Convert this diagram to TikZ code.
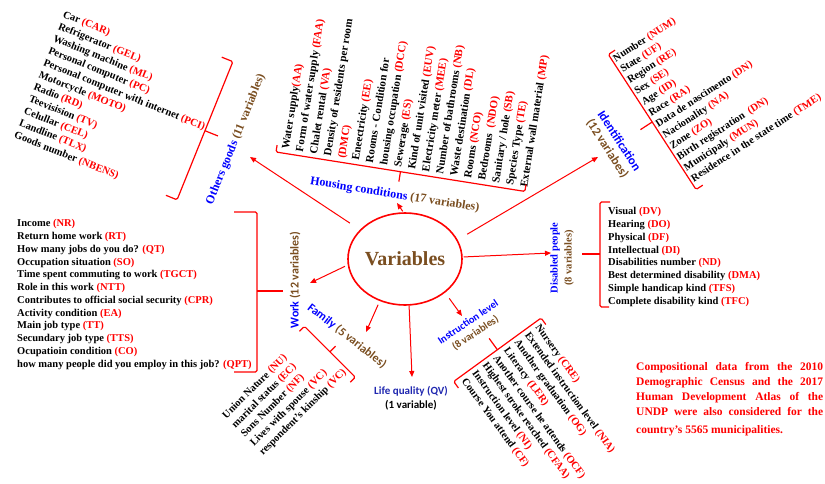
\documentclass[tikz,border=0pt]{standalone}
\usepackage{fontspec}
\setmainfont{Liberation Serif}
\newfontfamily\carl{Carlito}
\usetikzlibrary{arrows.meta,shapes.geometric}
\definecolor{cred}{RGB}{255,0,0}
\definecolor{cblue}{RGB}{0,0,255}
\definecolor{cbrown}{RGB}{122,78,32}
\definecolor{cdblue}{RGB}{32,40,176}
\newcommand\cd[1]{\textcolor{cred}{#1}}
\newcommand\gb[1]{\textcolor{cblue}{#1}}
\newcommand\gn[1]{\textcolor{cbrown}{#1}}
\tikzset{
  lst/.style={align=left, inner sep=0pt, anchor=north west, font=\bfseries\fontsize{10.5}{13}\selectfont},
  brk/.style={draw=cred, line width=1.2pt, rounded corners=1.5pt},
  arr/.style={draw=cred, line width=1pt, -{Triangle[length=6pt,width=5pt]}},
  slbl/.style={inner sep=0pt, font=\bfseries\fontsize{12}{14}\selectfont},
  clbl/.style={inner sep=0pt, align=center, font=\carl\bfseries\fontsize{12}{14}\selectfont},
}
\begin{document}
\begin{tikzpicture}[x=1pt,y=-1pt]
\path[use as bounding box, fill=white] (0,0) rectangle (825,483);

% central ellipse
\node[ellipse, draw=cred, line width=1.6pt, minimum width=114pt, minimum height=92pt, inner sep=0pt,
      text=cbrown, font=\bfseries\fontsize{20}{24}\selectfont] (V) at (405,259) {Variables};

% ---------- Others goods ----------
\begin{scope}[shift={(65,10)}, rotate=-22, transform shape]
\node[lst] (og) at (0,0) {Car \cd{(CAR)}\\Refrigerator \cd{(GEL)}\\Washing machine \cd{(ML)}\\Personal computer \cd{(PC)}\\Personal computer with internet \cd{(PCI)}\\Motorcycle \cd{(MOTO)}\\Radio \cd{(RD)}\\Teevisision \cd{(TV)}\\Celullar \cd{(CEL)}\\Landline \cd{(TLX)}\\Goods number \cd{(NBENS)}};
\draw[brk] (163,-15) -- (175,-15) -- (175,134) -- (163,134);
\draw[brk] (175,59.5) -- (189,59.5);
\node[slbl, rotate=90] (ogl) at (207,56) {\gb{Others goods} \gn{(11 variables)}};
\end{scope}

% ---------- Housing conditions ----------
\begin{scope}[shift={(276,152)}, rotate=-9, transform shape]
\node[lst, rotate=90, font=\bfseries\fontsize{11}{14.2}\selectfont] (hc) at (4.5,-4) {Water supply\cd{(AA)}\\Form of water supply \cd{(FAA)}\\Chalet rental \cd{(VA)}\\Density of residents per room\\\cd{(DMC)}\\Eneectricity \cd{(EE)}\\Rooms - Condition for\\housing occupation \cd{(DCC)}\\Sewerage \cd{(ES)}\\Kind of unit visited \cd{(EUV)}\\Electricity meter \cd{(MEE)}\\Number of bathrooms \cd{(NB)}\\Waste destination \cd{(DL)}\\Rooms \cd{(NCO)}\\Bedrooms \ \cd{(NDO)}\\Sanitary / hole \cd{(SB)}\\Species Type \cd{(TE)}\\External wall material \cd{(MP)}};
\draw[brk] (0,-7) -- (0,0) -- (252,0) -- (252,-7);
\draw[brk] (126,0) -- (126,10);
\node[slbl] (hcl) at (124,24) {\gb{Housing conditions} \gn{(17 variables)}};
\end{scope}

% ---------- Identification ----------
\begin{scope}[shift={(610,57)}, rotate=33, transform shape]
\node[lst] (id) at (2,0) {Number \cd{(NUM)}\\State \cd{(UF)}\\Region \cd{(RE)}\\Sex \cd{(SE)}\\Age \cd{(ID)}\\Race \cd{(RA)}\\Data de nascimento \cd{(DN)}\\Nacionality \cd{(NA)}\\Zone \cd{(ZO)}\\Birth registration \ \cd{(DN)}\\Municipaly \cd{(MUN)}\\Residence in the state time \cd{(TME)}};
\draw[brk] (8,-3) -- (0,-3) -- (0,158) -- (8,158);
\draw[brk] (0,77.5) -- (-14,77.5);
\end{scope}
\node[clbl, rotate=-57, font=\carl\bfseries\fontsize{12.5}{14}\selectfont] (idl) at (613,145) {\gb{Identification}\\\gn{(12 variabes)}};

% ---------- Disabled people ----------
\node[lst, font=\bfseries\fontsize{10.5}{12.75}\selectfont] (dp) at (608,207.5) {Visual \cd{(DV)}\\Hearing \cd{(DO)}\\Physical \cd{(DF)}\\Intellectual \cd{(DI)}\\Disabilities number \cd{(ND)}\\Best determined disability \cd{(DMA)}\\Simple handicap kind \cd{(TFS)}\\Complete disability kind \cd{(TFC)}};
\draw[brk] (610,202) -- (600,202) -- (600,307) -- (609,307);
\draw[brk] (600,254) -- (582,254);
\node[inner sep=0pt, align=center, rotate=90, font=\bfseries\fontsize{10.5}{14}\selectfont] (dpl) at (562,258) {\gb{Disabled people}\\\gn{(8 variables)}};

% ---------- Work ----------
\node[lst, font=\bfseries\fontsize{10.5}{12.75}\selectfont] (wk) at (17,219.5) {Income \cd{(NR)}\\Return home work \cd{(RT)}\\How many jobs do you do? \cd{(QT)}\\Occupation situation \cd{(SO)}\\Time spent commuting to work \cd{(TGCT)}\\Role in this work \cd{(NTT)}\\Contributes to official social security \cd{(CPR)}\\Activity condition \cd{(EA)}\\Main job type \cd{(TT)}\\Secundary job type \cd{(TTS)}\\Ocupatioin condition \cd{(CO)}\\how many people did you employ in this job? \cd{(QPT)}};
\draw[brk] (234,212) -- (257,212) -- (257,372) -- (234,372);
\draw[brk] (257,291) -- (283,291);
\node[clbl, rotate=90] (wkl) at (295,280) {\gb{Work} \gn{(12 variables)}};

% ---------- Family ----------
\begin{scope}[shift={(221,414)}, rotate=45, transform shape]
\node[lst] (fm) at (0,0) {Union Nature \cd{(NU)}\\marital status \cd{(EC)}\\Sons Number \cd{(NF)}\\Lives with spouse \cd{(VC)}\\respondent's kinship \cd{(VC)}};
\draw[brk] (114,-3) -- (121,-3) -- (121,69) -- (114,69);
\draw[brk] (121,33) -- (129,33);
\end{scope}
\node[clbl, rotate=-38] (fml) at (347,336) {\gb{Family} \gn{(5 variables)}};

% ---------- Life quality ----------
\node[clbl, font=\carl\bfseries\fontsize{11}{13.5}\selectfont] (lq) at (411,398) {\textcolor{cdblue}{Life quality (QV)}\\(1 variable)};

% ---------- Instruction level ----------
\begin{scope}[shift={(541,323)}, rotate=-54, transform shape]
\node[lst] (il) at (0,0) {Nursery \cd{(CRE)}\\Extended instruction level \cd{(NIA)}\\Another graduation \cd{(OG)}\\Literacy \cd{(LER)}\\Another course he attends \cd{(OCF)}\\Highest stroke reached \cd{(CFAA)}\\Instruction level \cd{(NI)}\\Course You attend \cd{(CF)}};
\draw[brk] (4,-3) -- (-4,-3) -- (-4,105) -- (4,105);
\draw[brk] (-4,51) -- (-18,51);
\end{scope}
\node[clbl, rotate=34, font=\carl\bfseries\fontsize{10.5}{13}\selectfont] (ill) at (472,328) {\gb{Instruction level}\\\gn{(8 variables)}};

% ---------- note ----------
\node[anchor=north west, inner sep=0pt, align=left, text=cred, font=\bfseries\fontsize{11.5}{15}\selectfont] (note) at (636,362) {\makebox[187pt][s]{Compositional data from the 2010}\\\makebox[187pt][s]{Demographic Census and the 2017}\\\makebox[187pt][s]{Human Development Atlas of the}\\\makebox[187pt][s]{UNDP were also considered for the}\\[3pt]country's 5565 municipalities.};

% ---------- arrows ----------
\coordinate (tOG) at (250,157);
\coordinate (tHC) at (397,203);
\coordinate (tID) at (598,157);
\coordinate (tDP) at (551,253);
\coordinate (tWK) at (310,283);
\coordinate (tFM) at (366,332);
\coordinate (tLQ) at (412,377);
\coordinate (tIL) at (462,316);
\draw[arr, shorten <=12pt] (V.147) -- (tOG);
\draw[arr, shorten <=1pt] (V.92) -- (tHC);
\draw[arr, shorten <=11pt] (V.20) -- (tID);
\draw[arr, shorten <=1pt] (V.2) -- (tDP);
\draw[arr, shorten <=3pt] (V.186) -- (tWK);
\draw[arr, shorten <=4pt] (V.239) -- (tFM);
\draw[arr] (V.275) -- (tLQ);
\draw[arr, shorten <=7pt] (V.320) -- (tIL);
\end{tikzpicture}
\end{document}
